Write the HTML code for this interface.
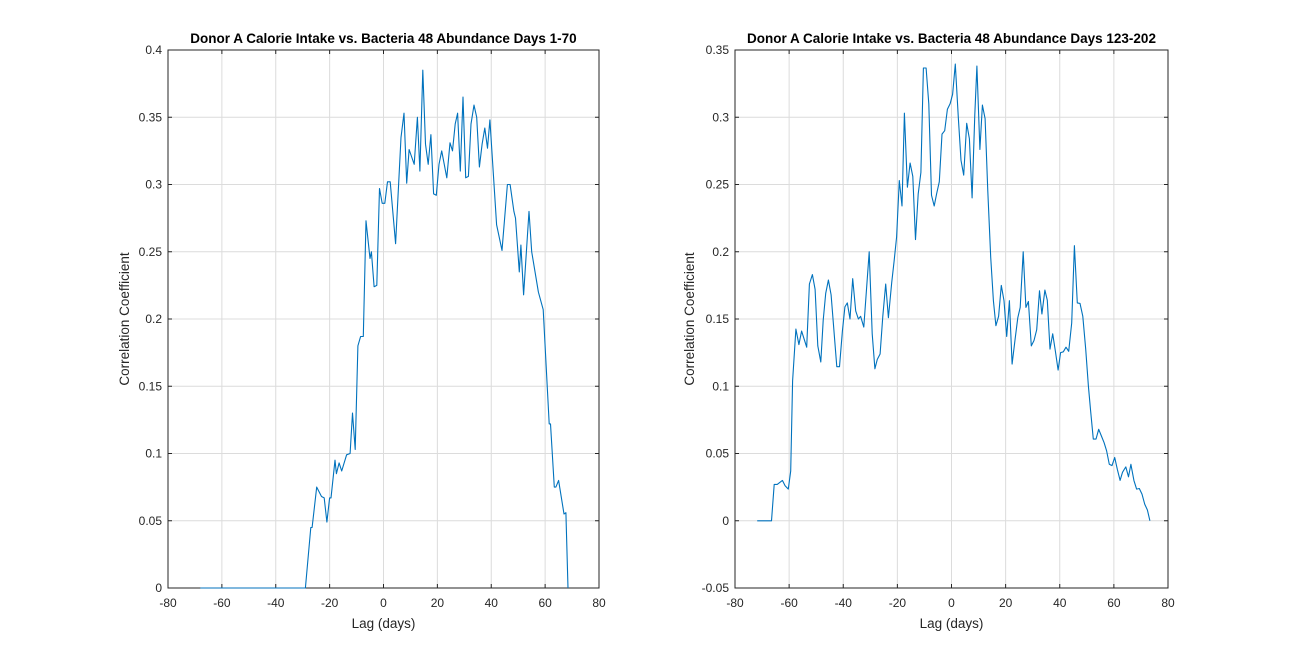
<!DOCTYPE html>
<html><head><meta charset="utf-8"><style>
html,body{margin:0;padding:0;background:#fff;}
svg{display:block;font-family:"Liberation Sans",Arial,sans-serif;}
</style></head><body>
<svg id="chart" width="1292" height="661" viewBox="0 0 1292 661" xmlns="http://www.w3.org/2000/svg">
<rect width="1292" height="661" fill="#fff"/>
</svg>
<script>
const leftLags=[-68,-29,-27,-26.5,-24.8,-23,-22,-21,-20,-19.5,-18,-17.5,-16.5,-15.5,-13.7,-12.4,-11.5,-10.5,-9.5,-8.5,-7.5,-6.5,-5,-4.5,-3.5,-2.5,-1.5,-0.5,0.5,1.5,2.5,4.5,6.5,7.6,8.6,9.5,11.4,12.6,13.5,14.6,15.6,16.6,17.6,18.6,19.6,20.6,21.6,23.5,24.7,25.6,26.6,27.5,28.5,29.5,30.5,31.5,32.5,33.6,34.6,35.6,36.6,37.6,38.6,39.5,42,44,46,47,48.4,49,50.4,51,52,54,55,57.5,59.3,60,61.5,62,63.4,64,65,67,67.7,68.5];
const leftValues=[0,0,0.045,0.045,0.075,0.068,0.067,0.049,0.067,0.067,0.095,0.085,0.093,0.087,0.099,0.1,0.13,0.103,0.18,0.187,0.187,0.273,0.245,0.25,0.224,0.225,0.297,0.286,0.286,0.302,0.302,0.256,0.335,0.353,0.301,0.326,0.315,0.35,0.31,0.385,0.33,0.315,0.337,0.293,0.292,0.315,0.325,0.305,0.331,0.325,0.345,0.353,0.31,0.365,0.305,0.306,0.345,0.359,0.35,0.313,0.33,0.342,0.327,0.348,0.27,0.251,0.3,0.3,0.28,0.275,0.235,0.255,0.218,0.28,0.25,0.22,0.207,0.18,0.122,0.122,0.075,0.075,0.08,0.055,0.056,0];
const rightLags=[-71.8,-66.5,-65.5,-64.4,-62.5,-61.5,-60.3,-59.4,-58.7,-57.5,-56.4,-55.4,-53.5,-52.5,-51.4,-50.4,-49.4,-48.3,-47.4,-46.5,-45.5,-44.5,-42.4,-41.4,-40.3,-39.4,-38.5,-37.5,-36.5,-35.4,-34.4,-33.6,-32.4,-30.4,-29.3,-28.3,-27.4,-26.4,-25.4,-24.3,-23.3,-22.1,-21.2,-20.3,-19.3,-18.3,-17.4,-16.3,-15.3,-14.3,-13.3,-12.3,-11.3,-10.4,-9.4,-8.4,-7.4,-6.4,-5.5,-4.5,-3.5,-2.5,-1.5,-0.5,0.4,1.4,2.5,3.5,4.5,5.6,6.6,7.6,8.6,9.4,10.5,11.4,12.4,13.4,14.5,15.5,16.4,17.4,18.4,19.4,20.4,21.4,22.4,23.5,24.5,25.4,26.5,27.5,28.4,29.5,30.5,31.5,32.5,33.4,34.5,35.4,36.4,37.4,38.4,39.4,40.3,41.3,42.3,43.3,44.4,45.4,46.5,47.5,48.5,49.6,50.6,51.4,52.4,53.4,54.4,55.4,56.4,57.3,58.3,59.3,60.3,61.3,62.3,63.2,64.4,65.4,66.3,67.4,68.4,69.4,70.4,71.4,72.4,73.3];
const rightValues=[0,0,0.027,0.027,0.030,0.026,0.0235,0.037,0.104,0.1425,0.131,0.141,0.129,0.176,0.183,0.172,0.130,0.118,0.149,0.169,0.179,0.168,0.1145,0.1145,0.141,0.159,0.162,0.150,0.180,0.156,0.150,0.152,0.144,0.200,0.139,0.113,0.120,0.124,0.152,0.176,0.151,0.177,0.193,0.211,0.253,0.234,0.303,0.248,0.266,0.256,0.209,0.243,0.259,0.3366,0.3366,0.310,0.242,0.234,0.243,0.252,0.2875,0.290,0.306,0.310,0.317,0.3395,0.300,0.268,0.257,0.2955,0.284,0.240,0.302,0.338,0.276,0.309,0.299,0.245,0.196,0.1636,0.145,0.152,0.175,0.1636,0.137,0.1636,0.1165,0.135,0.151,0.1586,0.2,0.1586,0.163,0.130,0.134,0.142,0.171,0.1537,0.1715,0.164,0.1276,0.139,0.126,0.112,0.125,0.1256,0.129,0.126,0.147,0.2045,0.162,0.1616,0.152,0.1276,0.100,0.0818,0.0607,0.0607,0.068,0.063,0.058,0.052,0.042,0.041,0.047,0.038,0.030,0.036,0.040,0.0327,0.042,0.030,0.0235,0.024,0.0198,0.0124,0.008,0];
const xTicks=[-80,-60,-40,-20,0,20,40,60,80];
const leftYTicks=[0,0.05,0.1,0.15,0.2,0.25,0.3,0.35,0.4];
const rightYTicks=[-0.05,0,0.05,0.1,0.15,0.2,0.25,0.3,0.35];

const NS='http://www.w3.org/2000/svg';
const svg=document.getElementById('chart');
function mk(tag,attrs,parent){const e=document.createElementNS(NS,tag);for(const k in attrs)e.setAttribute(k,attrs[k]);(parent||svg).appendChild(e);return e;}
function fmt(v){return String(Math.round(v*1000)/1000);}

function drawPanel(cfg){
  const g=mk('g',{});
  
  
  const L=cfg.x0,R=cfg.x1,T=50,B=588;
  const xs=v=>L+(v-(-80))/160*(R-L);
  const ys=v=>B-(v-cfg.ymin)/(cfg.ymax-cfg.ymin)*(B-T);
  // grid
  xTicks.forEach(t=>{const l=mk('line',{x1:xs(t),x2:xs(t),y1:T,y2:B,stroke:'#dcdcdc','stroke-width':1},g);
    });
  cfg.yTicks.forEach(t=>{const l=mk('line',{x1:L,x2:R,y1:ys(t),y2:ys(t),stroke:'#dcdcdc','stroke-width':1},g);
    });
  // box
  const box=mk('rect',{x:L,y:T,width:R-L,height:B-T,fill:'none',stroke:'#262626','stroke-width':1},g);
  
  // ticks & labels
  xTicks.forEach(t=>{
    mk('line',{x1:xs(t),x2:xs(t),y1:B,y2:B-4,stroke:'#262626'},g);
    mk('line',{x1:xs(t),x2:xs(t),y1:T,y2:T+4,stroke:'#262626'},g);
    const tx=mk('text',{x:xs(t),y:607,'text-anchor':'middle','font-size':12,fill:'#262626'},g);
    tx.textContent=fmt(t);
    
  });
  cfg.yTicks.forEach(t=>{
    mk('line',{x1:L,x2:L+4,y1:ys(t),y2:ys(t),stroke:'#262626'},g);
    mk('line',{x1:R,x2:R-4,y1:ys(t),y2:ys(t),stroke:'#262626'},g);
    const tx=mk('text',{x:L-6,y:ys(t)+4,'text-anchor':'end','font-size':12,fill:'#262626'},g);
    tx.textContent=fmt(t);
    
  });
  // series
  let d='';
  cfg.lags.forEach((lag,i)=>{d+=(i?'L':'M')+xs(lag).toFixed(1)+' '+ys(cfg.vals[i]).toFixed(1);});
  const p=mk('path',{d:d,fill:'none',stroke:'#0072BD','stroke-width':1.1,'stroke-linejoin':'round'},g);
  
  // title
  const ti=mk('text',{x:(L+R)/2,y:43,'text-anchor':'middle','font-size':13.5,'font-weight':'bold',fill:'#000'},g);
  ti.textContent=cfg.title;
  
  const xl=mk('text',{x:(L+R)/2,y:628,'text-anchor':'middle','font-size':13.5,fill:'#262626'},g);
  xl.textContent='Lag (days)';
  
  const cy=(T+B)/2;
  const yl=mk('text',{x:cfg.ylx,y:cy,'text-anchor':'middle','font-size':13.5,fill:'#262626',transform:'rotate(-90 '+cfg.ylx+' '+cy+')'},g);
  yl.textContent='Correlation Coefficient';
  
}
drawPanel({name:'left-panel',x0:168,x1:599,ymin:0,ymax:0.4,yTicks:leftYTicks,lags:leftLags,vals:leftValues,ylx:129,title:'Donor A Calorie Intake vs. Bacteria 48 Abundance Days 1-70'});
drawPanel({name:'right-panel',x0:735,x1:1168,ymin:-0.05,ymax:0.35,yTicks:rightYTicks,lags:rightLags,vals:rightValues,ylx:694,title:'Donor A Calorie Intake vs. Bacteria 48 Abundance Days 123-202'});
</script>
</body></html>
